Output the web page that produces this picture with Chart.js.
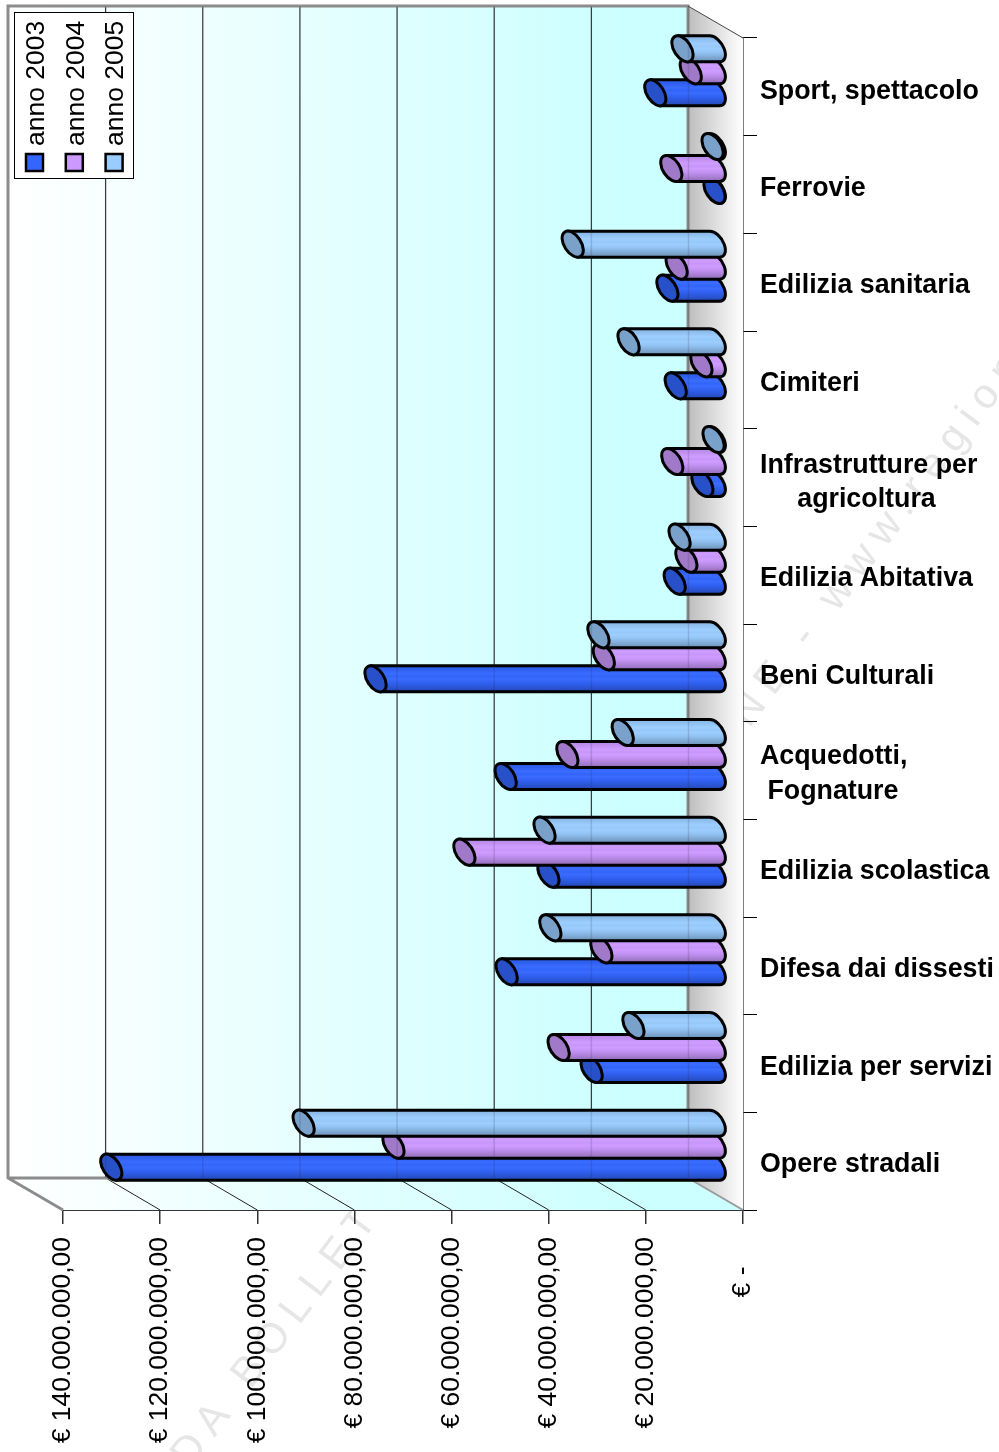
<!DOCTYPE html>
<html>
<head>
<meta charset="utf-8">
<style>html,body{margin:0;padding:0;background:#fff}canvas{display:block}</style>
<script src="https://cdn.jsdelivr.net/npm/chart.js@4"></script>
</head>
<body>
<canvas id="c" width="999" height="1452"></canvas>
<script>
const categories = [
  'Sport, spettacolo', 'Ferrovie', 'Edilizia sanitaria', 'Cimiteri',
  ['Infrastrutture per', '\u00A0\u00A0\u00A0\u00A0\u00A0agricoltura'],
  'Edilizia Abitativa', 'Beni Culturali',
  ['Acquedotti,', '\u00A0Fognature'],
  'Edilizia scolastica', 'Difesa dai dissesti', 'Edilizia per servizi', 'Opere stradali'
];
const anno2003 = [12.4, 0.2, 9.9, 8.2, 2.7, 8.4, 70.0, 43.2, 34.4, 43.0, 25.5, 124.4].map(v => v * 1e6);
const anno2004 = [5.1, 9.1, 8.0, 2.9, 8.9, 6.0, 23.0, 30.5, 51.7, 23.5, 32.3, 66.3].map(v => v * 1e6);
const anno2005 = [6.8, 0.6, 29.4, 17.9, 0.4, 7.4, 24.1, 19.1, 35.2, 34.0, 16.9, 84.8].map(v => v * 1e6);
const tickLabels = {
  0: '\u20AC -\u00A0\u00A0\u00A0\u00A0',
  20000000: '\u20AC 20.000.000,00',
  40000000: '\u20AC 40.000.000,00',
  60000000: '\u20AC 60.000.000,00',
  80000000: '\u20AC 80.000.000,00',
  100000000: '\u20AC 100.000.000,00',
  120000000: '\u20AC 120.000.000,00',
  140000000: '\u20AC 140.000.000,00'
};
const gridValues = [20e6, 40e6, 60e6, 80e6, 100e6, 120e6];
const labelNudge = [5, 4.5, 3.5, 3.5, 5, 3.5, 3.5, 3.5, 3.5, 3.5, 4.5, 3.5];
const DEPTH_X = -55, DEPTH_Y = -32;
const FONT = '"Liberation Sans", Arial, sans-serif';

function mix(hex, f) {
  const n = parseInt(hex.slice(1), 16);
  const ch = [(n >> 16) & 255, (n >> 8) & 255, n & 255];
  return 'rgb(' + ch.map(c => Math.round(f <= 1 ? c * f : c + (255 - c) * (f - 1))).join(',') + ')';
}

// Cylinder look for the library's bar elements (placed mid-depth of the 3D box).
Chart.BarElement.prototype.draw = function (ctx) {
  const p = this.getProps(['x', 'y', 'base', 'height']);
  const col = this.options.backgroundColor;
  const h = p.height / 2, cy = p.y + DEPTH_Y / 2;
  const xL = Math.min(p.x, p.base) + DEPTH_X / 2, xR = Math.max(p.x, p.base) + DEPTH_X / 2;
  const th = 57 * Math.PI / 180, a = 1.12 * h, b = 0.65 * h;
  const tB = Math.atan2(b * Math.cos(th), a * Math.sin(th)), tT = tB + Math.PI;
  const off = a * Math.cos(tB) * Math.cos(th) - b * Math.sin(tB) * Math.sin(th);
  ctx.save();
  ctx.lineWidth = 3; ctx.strokeStyle = '#000'; ctx.lineJoin = 'round';
  const g = ctx.createLinearGradient(0, cy - h, 0, cy + h);
  [[0, .88], [.15, .94], [.3, 1.04], [.42, .98], [.5, 1.04], [.65, .95], [.8, .85], [1, .7]]
    .forEach(s => g.addColorStop(s[0], mix(col, s[1])));
  ctx.beginPath();
  ctx.moveTo(xL - off, cy - h);
  ctx.lineTo(xR - off, cy - h);
  ctx.ellipse(xR, cy, a, b, th, tT, tB + 2 * Math.PI);
  ctx.lineTo(xL + off, cy + h);
  ctx.closePath();
  ctx.fillStyle = g; ctx.fill(); ctx.stroke();
  ctx.beginPath();
  ctx.ellipse(xL, cy, a, b, th, 0, 2 * Math.PI);
  ctx.fillStyle = mix(col, 0.79); ctx.fill(); ctx.stroke();
  ctx.restore();
};

const box3d = {
  id: 'box3d',
  beforeDraw(chart) {
    const c = chart.ctx;
    chart.scales.y.getLabelItems(chart.chartArea).forEach((it, i) => {
      if (!it.moved) { it.options.translation[1] += labelNudge[i]; it.moved = true; }
    });
    c.save();
    c.fillStyle = '#e6e6e6';
    c.font = '42px ' + FONT;
    c.letterSpacing = '10px';
    c.textBaseline = 'middle';
    c.translate(181, 1463); c.rotate(-53 * Math.PI / 180);
    c.fillText('DA BOLLETTINO', 0, 0);
    c.setTransform(1, 0, 0, 1, 740, 722); c.rotate(-53 * Math.PI / 180);
    c.fillText('NE - www.regione', 0, 0);
    c.restore();
  },
  beforeDatasetsDraw(chart) {
    const c = chart.ctx, X = chart.scales.x, a = chart.chartArea;
    const bx0 = X.getPixelForValue(0) + DEPTH_X, bxM = X.getPixelForValue(140e6) + DEPTH_X;
    const top = a.top + DEPTH_Y, bot = a.bottom + DEPTH_Y;
    c.save();
    let g = c.createLinearGradient(bxM, 0, bx0, 0);
    g.addColorStop(0, '#ffffff'); g.addColorStop(0.9, '#ccffff'); g.addColorStop(1, '#ccffff');
    c.fillStyle = g; c.fillRect(bxM, top, bx0 - bxM, bot - top);
    // floor
    g = c.createLinearGradient(bxM, 0, a.right, 0);
    g.addColorStop(0, '#ffffff'); g.addColorStop(0.85, '#ccffff'); g.addColorStop(1, '#ccffff');
    c.fillStyle = g;
    c.beginPath(); c.moveTo(bxM, bot); c.lineTo(bx0, bot); c.lineTo(a.right, a.bottom); c.lineTo(a.left, a.bottom); c.closePath(); c.fill();
    // side wall
    g = c.createLinearGradient(bx0, 0, a.right, 0);
    g.addColorStop(0, '#bdbdbd'); g.addColorStop(1, '#ffffff');
    c.fillStyle = g;
    c.beginPath(); c.moveTo(bx0, top); c.lineTo(a.right, a.top); c.lineTo(a.right, a.bottom); c.lineTo(bx0, bot); c.closePath(); c.fill();
    // grid lines on wall and floor
    c.lineWidth = 1; c.strokeStyle = '#222';
    gridValues.forEach(v => {
      const f = X.getPixelForValue(v), b = f + DEPTH_X;
      c.beginPath(); c.moveTo(b + .5, top); c.lineTo(b + .5, bot); c.lineTo(f, a.bottom); c.stroke();
    });
    // gray frame
    c.strokeStyle = '#8c8c8c'; c.lineWidth = 3;
    c.beginPath(); c.moveTo(bx0, bot); c.lineTo(bx0, top); c.lineTo(bxM, top); c.lineTo(bxM, bot); c.lineTo(a.left, a.bottom); c.moveTo(bxM, bot); c.lineTo(bx0, bot); c.stroke();
    c.strokeStyle = '#444'; c.lineWidth = 1;
    c.beginPath(); c.moveTo(bx0, top); c.lineTo(a.right, a.top); c.stroke();
    c.strokeStyle = '#9a9a9a'; c.lineWidth = 2;
    c.beginPath(); c.moveTo(bx0, bot); c.lineTo(a.right, a.bottom); c.stroke();
    c.restore();
  },
  afterDatasetsDraw(chart) {
    const c = chart.ctx, X = chart.scales.x, a = chart.chartArea;
    c.save();
    c.strokeStyle = 'rgba(40,40,60,0.16)'; c.lineWidth = 1.5;
    [0].concat(gridValues).forEach(v => {
      const b = X.getPixelForValue(v) + DEPTH_X + .5;
      c.beginPath(); c.moveTo(b, a.top + DEPTH_Y); c.lineTo(b, a.bottom + DEPTH_Y); c.stroke();
    });
    c.restore();
  },
  afterDraw(chart) {
    const c = chart.ctx;
    c.save();
    c.fillStyle = '#fff'; c.strokeStyle = '#000'; c.lineWidth = 1;
    c.fillRect(14.5, 12.5, 119, 166); c.strokeRect(14.5, 12.5, 119, 166);
    chart.data.datasets.slice().reverse().forEach((d, i) => {
      const x = 26 + i * 39.8;
      c.fillStyle = d.backgroundColor; c.strokeStyle = '#000'; c.lineWidth = 2.5;
      c.fillRect(x, 154, 17, 17); c.strokeRect(x, 154, 17, 17);
      c.save();
      c.translate(x + 10.5, 146); c.rotate(-Math.PI / 2);
      c.fillStyle = '#000'; c.font = '26.5px ' + FONT; c.textBaseline = 'middle'; c.textAlign = 'left';
      c.fillText(d.label, 0, 0);
      c.restore();
    });
    c.restore();
  }
};

new Chart(document.getElementById('c'), {
  type: 'bar',
  data: {
    labels: categories,
    datasets: [
      { label: 'anno 2005', data: anno2005, backgroundColor: '#99CCFF', clip: false },
      { label: 'anno 2004', data: anno2004, backgroundColor: '#CC99FF', clip: false },
      { label: 'anno 2003', data: anno2003, backgroundColor: '#3366FF', clip: false }
    ]
  },
  plugins: [box3d],
  options: {
    indexAxis: 'y',
    responsive: false,
    animation: false,
    events: [],
    categoryPercentage: 0.676,
    barPercentage: 1.18,
    layout: { padding: { top: 38, left: 63, right: 0, bottom: 0 } },
    plugins: { legend: { display: false }, tooltip: { enabled: false }, title: { display: false } },
    scales: {
      x: {
        type: 'linear', reverse: true, min: 0, max: 140e6,
        afterFit(s) { s.height = 242; },
        afterBuildTicks(s) { s.ticks = Object.keys(tickLabels).map(v => ({ value: +v })); },
        grid: { drawOnChartArea: false, color: '#333', tickLength: 14, lineWidth: 1.5 },
        border: { color: '#333', width: 2 },
        ticks: {
          autoSkip: false, minRotation: 90, maxRotation: 90, padding: 13, color: '#000',
          font: { family: FONT, size: 26.5 },
          callback: v => tickLabels[v]
        }
      },
      y: {
        position: 'right',
        afterFit(s) { s.width = 256; },
        grid: { drawOnChartArea: false, color: '#000', tickLength: 14, lineWidth: 1, offset: true },
        border: { color: '#000', width: 1.5 },
        ticks: {
          autoSkip: false, padding: 3, color: '#000', crossAlign: 'near',
          font: { family: FONT, size: 26.8, weight: 'bold', lineHeight: 1.29 }
        }
      }
    }
  }
});
</script>
</body>
</html>
